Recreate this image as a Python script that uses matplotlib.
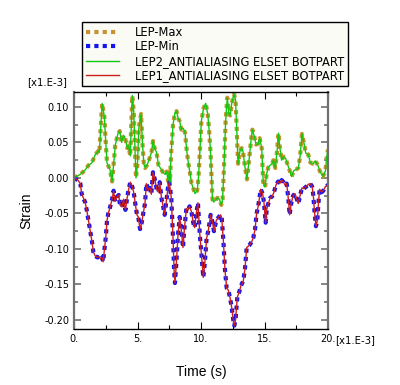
import matplotlib.pyplot as plt
from matplotlib.ticker import MultipleLocator, FuncFormatter

plt.rcParams['axes.unicode_minus'] = False

# ==== Data (time in ms, strain) ====
t_max = [0.0, 0.5, 0.87, 1.15, 1.4, 1.68, 1.92, 2.0, 2.1, 2.22, 2.39, 2.5, 2.6, 2.83, 3.0,
         3.12, 3.25, 3.45, 3.6, 3.75, 3.9, 4.04, 4.2, 4.3, 4.43, 4.5, 4.59, 4.7, 4.8, 4.88,
         5.0, 5.1, 5.28, 5.4, 5.5, 5.6, 5.75, 5.9, 6.1, 6.22, 6.35, 6.5, 6.65, 6.8, 7.0,
         7.17, 7.3, 7.4, 7.5, 7.55, 7.66, 7.8, 7.95, 8.08, 8.2, 8.32, 8.45, 8.6, 8.74, 8.87,
         9.0, 9.15, 9.26, 9.4, 9.53, 9.7, 9.8, 9.9, 10.03, 10.2, 10.37, 10.53, 10.63, 10.76,
         10.9, 11.0, 11.15, 11.3, 11.45, 11.6, 11.7, 11.8, 11.94, 12.07, 12.2, 12.3, 12.42,
         12.6, 12.72, 12.81, 12.92, 13.07, 13.2, 13.3, 13.46, 13.62, 13.8, 13.94, 14.05,
         14.2, 14.33, 14.5, 14.62, 14.78, 14.9, 15.04, 15.17, 15.3, 15.45, 15.6, 15.7, 15.85,
         16.0, 16.1, 16.2, 16.35, 16.5, 16.65, 16.8, 16.95, 17.14, 17.3, 17.5, 17.66, 17.8,
         17.95, 18.1, 18.25, 18.45, 18.6, 18.8, 19.0, 19.2, 19.37, 19.6, 19.8, 19.9, 20.0]
lep_max = [0.0, 0.005, 0.011, 0.018, 0.021, 0.033, 0.038, 0.036, 0.07, 0.105, 0.086, 0.05,
           0.021, 0.012, -0.005, 0.02, 0.046, 0.062, 0.066, 0.05, 0.06, 0.055, 0.042, 0.045,
           0.031, 0.07, 0.116, 0.095, 0.04, 0.0, 0.02, 0.07, 0.09, 0.046, 0.02, 0.014, 0.018,
           0.025, 0.036, 0.052, 0.042, 0.036, 0.018, 0.014, 0.008, 0.005, 0.009, -0.004, 0.008,
           -0.006, 0.038, 0.075, 0.092, 0.094, 0.084, 0.08, 0.068, 0.07, 0.064, 0.04, 0.021,
           0.005, -0.008, -0.015, -0.022, -0.018, 0.0, 0.033, 0.08, 0.098, 0.105, 0.09, 0.07,
           0.033, -0.03, -0.034, -0.031, -0.028, -0.03, -0.038, -0.03, 0.01, 0.08, 0.113, 0.09,
           0.088, 0.105, 0.118, 0.11, 0.068, 0.02, 0.038, 0.042, 0.038, 0.016, -0.002, 0.028,
           0.053, 0.068, 0.058, 0.047, 0.048, 0.056, 0.042, -0.006, -0.013, 0.006, 0.015, 0.018,
           0.02, 0.025, 0.014, 0.04, 0.063, 0.044, 0.025, 0.03, 0.028, 0.02, 0.012, 0.002, 0.01,
           0.012, 0.014, 0.03, 0.062, 0.05, 0.035, 0.033, 0.022, 0.02, 0.024, 0.018, 0.009,
           0.002, 0.01, 0.03, 0.04]

t_min = [0.0, 0.3, 0.5, 0.6, 0.89, 1.0, 1.15, 1.26, 1.42, 1.52, 1.68, 1.85, 2.0, 2.1, 2.2,
         2.3, 2.4, 2.5, 2.6, 2.7, 2.86, 3.0, 3.12, 3.23, 3.36, 3.52, 3.62, 3.78, 3.9, 4.05,
         4.17, 4.28, 4.43, 4.55, 4.7, 4.83, 4.96, 5.06, 5.2, 5.33, 5.45, 5.59, 5.7, 5.85, 5.96,
         6.09, 6.22, 6.35, 6.5, 6.65, 6.75, 6.9, 7.0, 7.14, 7.27, 7.4, 7.5, 7.66, 7.8, 7.88,
         7.95, 8.06, 8.19, 8.32, 8.46, 8.58, 8.7, 8.85, 8.98, 9.1, 9.24, 9.4, 9.5, 9.63, 9.76,
         9.9, 10.05, 10.18, 10.3, 10.44, 10.57, 10.76, 10.9, 11.02, 11.2, 11.4, 11.55, 11.64,
         11.76, 11.89, 12.02, 12.15, 12.3, 12.42, 12.54, 12.62, 12.72, 12.86, 13.02, 13.14,
         13.33, 13.46, 13.6, 13.8, 13.99, 14.12, 14.25, 14.38, 14.5, 14.59, 14.7, 14.85, 14.96,
         15.09, 15.17, 15.3, 15.45, 15.6, 15.75, 15.9, 16.08, 16.2, 16.35, 16.5, 16.61, 16.75,
         16.88, 16.98, 17.1, 17.25, 17.4, 17.55, 17.66, 17.8, 17.95, 18.1, 18.3, 18.45, 18.6,
         18.75, 18.84, 18.95, 19.05, 19.16, 19.25, 19.34, 19.5, 19.63, 19.8, 20.0]
lep_min = [0.0, -0.003, -0.008, -0.022, -0.035, -0.045, -0.061, -0.073, -0.09, -0.104, -0.11,
           -0.112, -0.111, -0.114, -0.112, -0.118, -0.1, -0.084, -0.06, -0.05, -0.04, -0.03,
           -0.018, -0.033, -0.027, -0.024, -0.038, -0.041, -0.03, -0.045, -0.03, -0.018, -0.006,
           -0.01, -0.02, -0.037, -0.052, -0.055, -0.072, -0.063, -0.05, -0.036, -0.008, -0.017,
           -0.014, -0.023, 0.008, -0.001, -0.015, -0.02, -0.006, -0.03, -0.038, -0.052, -0.033,
           -0.014, -0.006, -0.028, -0.085, -0.13, -0.148, -0.12, -0.08, -0.055, -0.075, -0.098,
           -0.07, -0.043, -0.045, -0.04, -0.047, -0.064, -0.07, -0.05, -0.035, -0.078, -0.111,
           -0.14, -0.12, -0.085, -0.075, -0.052, -0.062, -0.075, -0.06, -0.055, -0.052, -0.058,
           -0.088, -0.13, -0.155, -0.158, -0.17, -0.183, -0.2, -0.208, -0.2, -0.168, -0.16,
           -0.152, -0.145, -0.128, -0.098, -0.095, -0.09, -0.084, -0.073, -0.05, -0.04, -0.03,
           -0.016, -0.022, -0.035, -0.063, -0.045, -0.036, -0.028, -0.026, -0.02, -0.01, -0.005,
           -0.008, -0.003, -0.006, -0.01, -0.008, -0.03, -0.052, -0.036, -0.025, -0.022, -0.03,
           -0.036, -0.025, -0.014, -0.015, -0.012, -0.009, -0.008, -0.012, -0.024, -0.05, -0.068,
           -0.06, -0.035, -0.016, -0.02, -0.018, -0.012, -0.01]

labels = ["LEP-Max", "LEP-Min", "LEP2_ANTIALIASING ELSET BOTPART", "LEP1_ANTIALIASING ELSET BOTPART"]

# ==== Plot ====
fig = plt.figure(figsize=(4.0, 3.85), dpi=100)
ax = fig.add_axes([0.185, 0.1455, 0.635, 0.6155])

dot = (0, (1, 1))
h1, = ax.plot(t_max, lep_max, color='#c8922e', lw=3, ls=dot, dash_capstyle='butt', label=labels[0])
h2, = ax.plot(t_min, lep_min, color='#1414f0', lw=3, ls=dot, dash_capstyle='butt', label=labels[1])
h3, = ax.plot(t_max, lep_max, color='#10c810', lw=1, label=labels[2])
h4, = ax.plot(t_min, lep_min, color='#cc1c1c', lw=1, label=labels[3])

ax.set_xlim(0, 20)
ax.set_ylim(-0.2127, 0.121)
ax.xaxis.set_major_locator(MultipleLocator(5))
ax.xaxis.set_minor_locator(MultipleLocator(2.5))
ax.yaxis.set_major_locator(MultipleLocator(0.05))
ax.yaxis.set_minor_locator(MultipleLocator(0.025))
ax.xaxis.set_major_formatter(FuncFormatter(lambda v, p: f"{v:g}."))
ax.yaxis.set_major_formatter(FuncFormatter(lambda v, p: f"{v:.2f}"))
ax.tick_params(which='both', direction='in', top=True, right=True, labelsize=7, width=0.8)
ax.tick_params(which='major', length=5)
ax.tick_params(which='minor', length=3)
ax.tick_params(axis='y', which='both', color='#707070', width=1.2)
for s in ax.spines.values():
    s.set_linewidth(1.0)
ax.spines['left'].set_color('#707070')
ax.spines['right'].set_color('#707070')
ax.spines['left'].set_linewidth(1.6)
ax.spines['right'].set_linewidth(1.6)

ax.set_xlabel("Time (s)", fontsize=10, family='Liberation Sans', labelpad=15)
ax.set_ylabel("Strain", fontsize=10, family='Liberation Sans', labelpad=8)

fig.text(0.068, 0.787, "[x1.E-3]", fontsize=7.3, va='center')
fig.text(0.839, 0.117, "[x1.E-3]", fontsize=7.3, va='center')

leg = fig.legend(handles=[h1, h2, h3, h4], loc='upper left', bbox_to_anchor=(0.205, 0.943),
                 borderaxespad=0, fontsize=8.3, frameon=True, fancybox=False, edgecolor='black',
                 facecolor='#fbfbf6', framealpha=1, handlelength=2.9, handletextpad=1.35,
                 labelspacing=0.12, borderpad=0.35)
leg.get_frame().set_linewidth(1.0)

plt.savefig("out.png", dpi=100)
